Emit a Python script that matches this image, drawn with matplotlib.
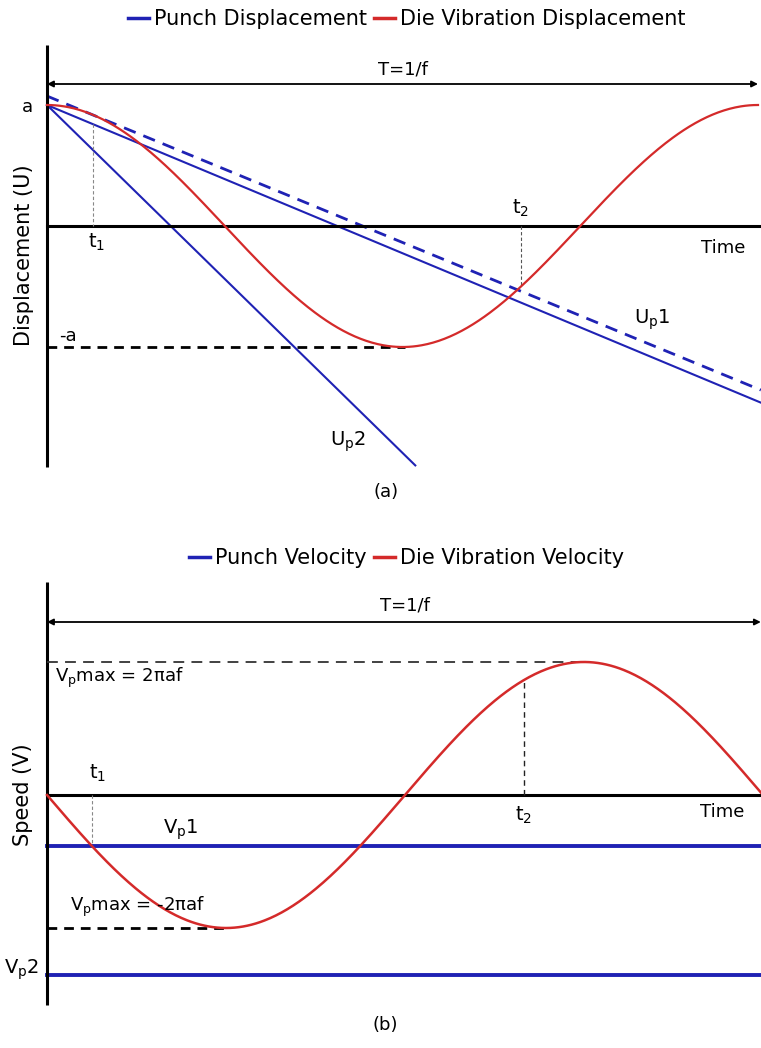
import numpy as np
import matplotlib
matplotlib.use("Agg")
import matplotlib.pyplot as plt
from matplotlib.lines import Line2D

plt.rcParams['font.family'] = ['DejaVu Sans']
plt.rcParams['mathtext.fontset'] = 'dejavusans'

# ---- values (time in periods T, displacement in units of a, speed in units of 2*pi*a*f)
amplitude = 1.0
period = 1.0
t_marks = [0.065, 0.666]                 # t1, t2
disp_punch_start = [1.0, 1.074, 1.0]     # Up1, Up1 (dashed), Up2
disp_punch_slope = [2.45, 2.42, 5.75]
disp_punch_end = [1.004, 1.004, 0.518]
speed_amplitude = 1.0
speed_punch = [-0.385, -1.35]            # Vp1, Vp2

BLUE = '#1f22b4'
RED = '#d42a2a'
W, H = 761, 1048

fig = plt.figure(figsize=(W / 100, H / 100), dpi=100)


def px_axes(top, bottom):
    return fig.add_axes([0, 1 - bottom / H, 1, (bottom - top) / H])


def ftext(x, y, s, **kw):
    fig.text(x / W, 1 - y / H, s, **kw)


# ================= (a) displacement =================
axa = px_axes(40, 475)
sx_a = 711.0
axa.set_xlim(-47 / sx_a, (W - 47) / sx_a)
axa.set_ylim((226 - 475) / 121.0, (226 - 40) / 121.0)
axa.axis('off')

tt = np.linspace(0, period, 500)
axa.plot(tt, amplitude * np.cos(2 * np.pi * tt / period), color=RED, lw=1.6, zorder=3)

styles = [dict(ls='-'), dict(ls=(0, (4.5, 3))), dict(ls='-')]
widths = [1.5, 2.0, 1.5]
for b0, k, te, st, w in zip(disp_punch_start, disp_punch_slope, disp_punch_end, styles, widths):
    tl = np.array([0, te])
    axa.plot(tl, b0 - k * tl, color=BLUE, lw=w, zorder=2, **st)

axa.plot([0, 0], [(226 - 45) / 121, (226 - 467) / 121], color='black', lw=2.2, solid_capstyle='butt')
axa.plot([0, (W - 47) / sx_a], [0, 0], color='black', lw=2.2)
axa.plot([0, 0.503], [-amplitude, -amplitude], color='black', lw=2.0, ls=(0, (3.5, 2.5)))

t1, t2 = t_marks
axa.plot([t1, t1], [disp_punch_start[0] - disp_punch_slope[0] * t1, 0], color='#888888', lw=0.8, ls=(0, (3, 2)))
axa.plot([t2, t2], [0, np.cos(2 * np.pi * t2)], color='#555555', lw=0.8, ls=(0, (3, 2)))

ya = (226 - 84) / 121
axa.annotate('', xy=(1.0, ya), xytext=(0, ya),
             arrowprops=dict(arrowstyle='<|-|>', lw=1.3, color='black', mutation_scale=9, shrinkA=0, shrinkB=0))
axa.text(0.5, (226 - 70) / 121, 'T=1/f', ha='center', va='center', fontsize=13)
axa.text(-0.027, 0.985, 'a', ha='center', va='center', fontsize=13)
axa.text(0.03, -0.91, '-a', ha='center', va='center', fontsize=13)
axa.text(0.07, -0.132, r'$\mathregular{t_1}$', ha='center', va='center', fontsize=14)
axa.text(t2, 0.15, r'$\mathregular{t_2}$', ha='center', va='center', fontsize=14)
axa.text(0.951, -0.182, 'Time', ha='center', va='center', fontsize=13)
axa.text(0.851, -0.777, r'$\mathregular{U_p1}$', ha='center', va='center', fontsize=14)
axa.text(0.423, -1.785, r'$\mathregular{U_p2}$', ha='center', va='center', fontsize=14)
axa.text(-23 / sx_a, -0.24, 'Displacement (U)', rotation=90, ha='center', va='center', fontsize=15)
ftext(386, 492, '(a)', ha='center', va='center', fontsize=13)

fig.legend(handles=[Line2D([], [], color=BLUE, lw=2.5), Line2D([], [], color=RED, lw=2.5)],
           labels=['Punch Displacement', 'Die Vibration Displacement'],
           loc='center', bbox_to_anchor=(407 / W, 1 - 19 / H), ncol=2, frameon=False, fontsize=15,
           handlelength=1.0, handletextpad=0.25, columnspacing=0.35, borderaxespad=0, borderpad=0)

# ================= (b) speed =================
axb = px_axes(575, 1010)
sx_b = 716.0
sy_b = 133.0
axb.set_xlim(-47 / sx_b, (W - 47) / sx_b)
axb.set_ylim((795 - 1010) / sy_b, (795 - 575) / sy_b)
axb.axis('off')

tv = np.linspace(0, (W - 47) / sx_b, 500)
axb.plot(tv, -speed_amplitude * np.sin(2 * np.pi * tv / period), color=RED, lw=1.8, zorder=3)
for v in speed_punch:
    axb.plot([0, (W - 47) / sx_b], [v, v], color=BLUE, lw=2.8, zorder=2)

axb.plot([0, 0], [(795 - 582) / sy_b, (795 - 1005) / sy_b], color='black', lw=2.2, solid_capstyle='butt')
axb.plot([0, (W - 47) / sx_b], [0, 0], color='black', lw=2.2)
axb.plot([0, 0.75], [speed_amplitude, speed_amplitude], color='#333333', lw=1.3, ls=(0, (6, 4)))
axb.plot([0, 0.25], [-speed_amplitude, -speed_amplitude], color='black', lw=2.0, ls=(0, (3.5, 2.5)))

t1b = np.arcsin(-speed_punch[0] / speed_amplitude) / (2 * np.pi)
axb.plot([t1b, t1b], [0, speed_punch[0]], color='#888888', lw=0.8, ls=(0, (3, 2)))
axb.plot([t2, t2], [0, -np.sin(2 * np.pi * t2)], color='#222222', lw=1.0, ls=(0, (4, 3)))

yb = (795 - 622) / sy_b
axb.annotate('', xy=(0.997, yb), xytext=(0, yb),
             arrowprops=dict(arrowstyle='<|-|>', lw=1.3, color='black', mutation_scale=9, shrinkA=0, shrinkB=0))
axb.text(0.5, (795 - 605) / sy_b, 'T=1/f', ha='center', va='center', fontsize=13)
axb.text(0.011, 0.88, r'V$_\mathregular{p}$max = 2πaf', ha='left', va='center', fontsize=13)
axb.text(0.071, 0.165, r'$\mathregular{t_1}$', ha='center', va='center', fontsize=14)
axb.text(t2, -0.15, r'$\mathregular{t_2}$', ha='center', va='center', fontsize=14)
axb.text(0.943, -0.128, 'Time', ha='center', va='center', fontsize=13)
axb.text(0.187, -0.263, r'$\mathregular{V_p1}$', ha='center', va='center', fontsize=14)
axb.text(0.032, -0.842, r'V$_\mathregular{p}$max = -2πaf', ha='left', va='center', fontsize=13)
axb.text(-0.035, -1.316, r'$\mathregular{V_p2}$', ha='center', va='center', fontsize=14)
axb.text(-24 / sx_b, 0.0, 'Speed (V)', rotation=90, ha='center', va='center', fontsize=15)
ftext(385, 1025, '(b)', ha='center', va='center', fontsize=13)

fig.legend(handles=[Line2D([], [], color=BLUE, lw=2.5), Line2D([], [], color=RED, lw=2.5)],
           labels=['Punch Velocity', 'Die Vibration Velocity'],
           loc='center', bbox_to_anchor=(407 / W, 1 - 558 / H), ncol=2, frameon=False, fontsize=15,
           handlelength=1.0, handletextpad=0.25, columnspacing=0.35, borderaxespad=0, borderpad=0)

fig.savefig('out.png', dpi=100, facecolor='white')
